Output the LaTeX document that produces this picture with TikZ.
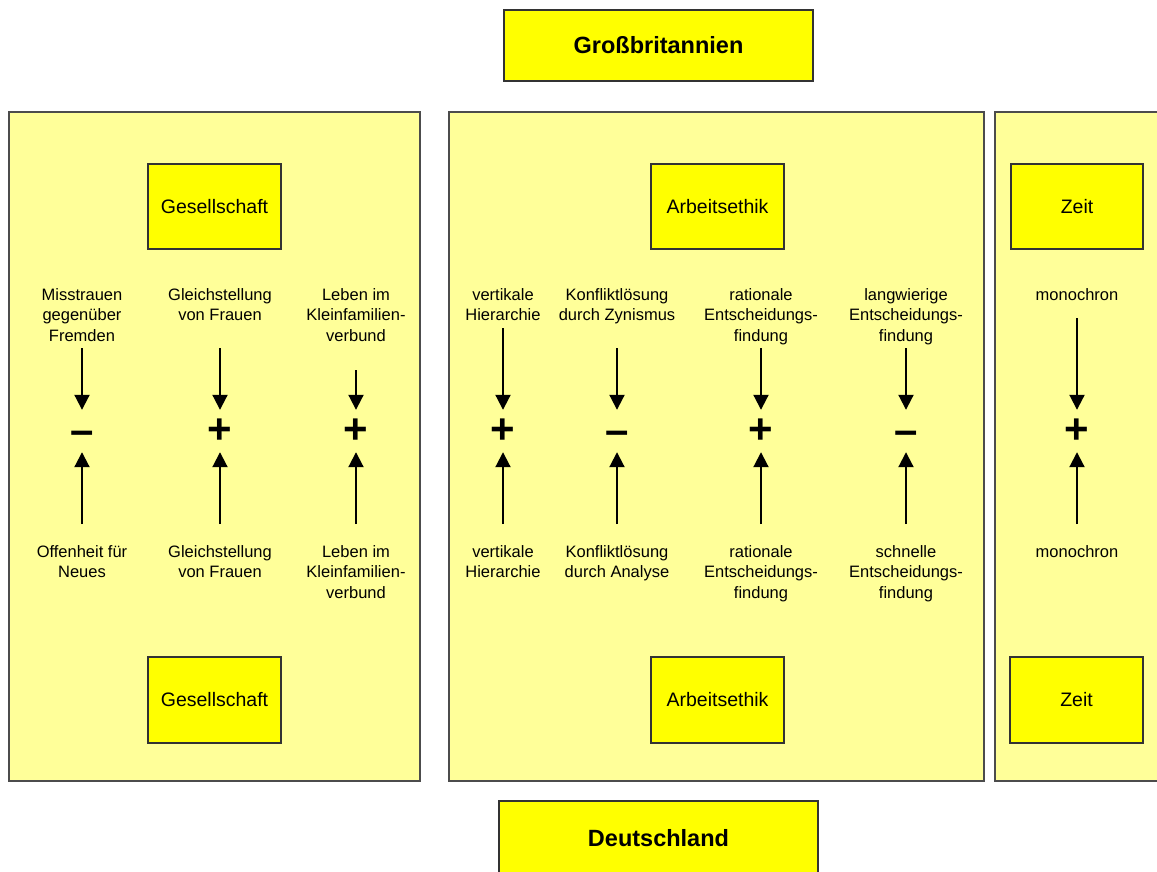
\documentclass[tikz,border=0pt]{standalone}
\usepackage{fontspec}
\setmainfont{Liberation Sans}
\usetikzlibrary{arrows.meta}
\definecolor{panelfill}{RGB}{255,255,153}
\definecolor{boxfill}{RGB}{255,255,0}
\newcommand{\minussign}{\vphantom{+}\raisebox{-3pt}{–}}
\begin{document}
\begin{tikzpicture}[x=1pt,y=-1pt,
  panel/.style={draw=black!70, line width=1.6pt, fill=panelfill, inner sep=0},
  hbox/.style={draw=black!80, line width=1.6pt, fill=boxfill, inner sep=0,
    font=\fontsize{19.5}{22}\selectfont},
  title/.style={hbox, font=\fontsize{23.5}{26}\selectfont\bfseries},
  lbl/.style={align=center, inner sep=0, font=\fontsize{16.5}{20.5}\selectfont, anchor=north},
  sign/.style={inner sep=0, minimum height=42pt, font=\fontsize{42}{44}\selectfont\bfseries},
  arr/.style={line width=2pt, -{Triangle[length=15pt,width=15pt]}}]
\clip (0,0) rectangle (1157,871);
\useasboundingbox (0,0) rectangle (1157,871);
\fill[white] (0,0) rectangle (1157,871);

% panels
\node[panel, minimum width=411pt, minimum height=669pt] (pL) at (214.5,446.5) {};
\node[panel, minimum width=535pt, minimum height=669pt] (pM) at (716.5,446.5) {};
\node[panel, minimum width=175pt, minimum height=669pt] (pR) at (1082.5,446.5) {};

% titles
\node[title, minimum width=309pt, minimum height=71pt] (gb) at (658.5,45.5) {Großbritannien};
\node[title, minimum width=319pt, minimum height=74pt] (de) at (658.5,838) {Deutschland};

% category boxes
\node[hbox, minimum width=133pt, minimum height=85pt] (gT) at (214.5,206.5) {Gesellschaft};
\node[hbox, minimum width=133pt, minimum height=86pt] (gB) at (214.5,700) {Gesellschaft};
\node[hbox, minimum width=133pt, minimum height=85pt] (aT) at (717.5,206.5) {Arbeitsethik};
\node[hbox, minimum width=133pt, minimum height=86pt] (aB) at (717.5,700) {Arbeitsethik};
\node[hbox, minimum width=132pt, minimum height=85pt] (zT) at (1077,206.5) {Zeit};
\node[hbox, minimum width=133pt, minimum height=86pt] (zB) at (1076.5,700) {Zeit};

% top labels
\node[lbl] (t1) at (82,288) {Misstrauen\\gegenüber\\Fremden};
\node[lbl] (t2) at (220,288) {Gleichstellung\\von Frauen};
\node[lbl] (t3) at (356,288) {Leben im\\Kleinfamilien-\\verbund};
\node[lbl] (t4) at (503,288) {vertikale\\Hierarchie};
\node[lbl] (t5) at (617,288) {Konfliktlösung\\durch Zynismus};
\node[lbl] (t6) at (761,288) {rationale\\Entscheidungs-\\findung};
\node[lbl] (t7) at (906,288) {langwierige\\Entscheidungs-\\findung};
\node[lbl] (t8) at (1077,288) {monochron};

% bottom labels
\node[lbl] (u1) at (82,545) {Offenheit für\\Neues};
\node[lbl] (u2) at (220,545) {Gleichstellung\\von Frauen};
\node[lbl] (u3) at (356,545) {Leben im\\Kleinfamilien-\\verbund};
\node[lbl] (u4) at (503,545) {vertikale\\Hierarchie};
\node[lbl] (u5) at (617,545) {Konfliktlösung\\durch Analyse};
\node[lbl] (u6) at (761,545) {rationale\\Entscheidungs-\\findung};
\node[lbl] (u7) at (906,545) {schnelle\\Entscheidungs-\\findung};
\node[lbl] (u8) at (1077,545) {monochron};

% signs
\node[sign] (s1) at (82,431) {\minussign};
\node[sign] (s2) at (220,431) {+};
\node[sign] (s3) at (356,431) {+};
\node[sign] (s4) at (503,431) {+};
\node[sign] (s5) at (617,431) {\minussign};
\node[sign] (s6) at (761,431) {+};
\node[sign] (s7) at (906,431) {\minussign};
\node[sign] (s8) at (1077,431) {+};

% arrow start coordinates
\coordinate (a1) at (82,348);
\coordinate (a2) at (220,348);
\coordinate (a3) at (356,370);
\coordinate (a4) at (503,328);
\coordinate (a5) at (617,348);
\coordinate (a6) at (761,348);
\coordinate (a7) at (906,348);
\coordinate (a8) at (1077,318);
\foreach \i/\x in {1/82,2/220,3/356,4/503,5/617,6/761,7/906,8/1077}{
  \coordinate (b\i) at (\x,524);
}

\foreach \i in {1,...,8}{
  \draw[arr] (a\i) -- (s\i.north);
  \draw[arr] (b\i) -- (s\i.south);
}
\end{tikzpicture}
\end{document}
